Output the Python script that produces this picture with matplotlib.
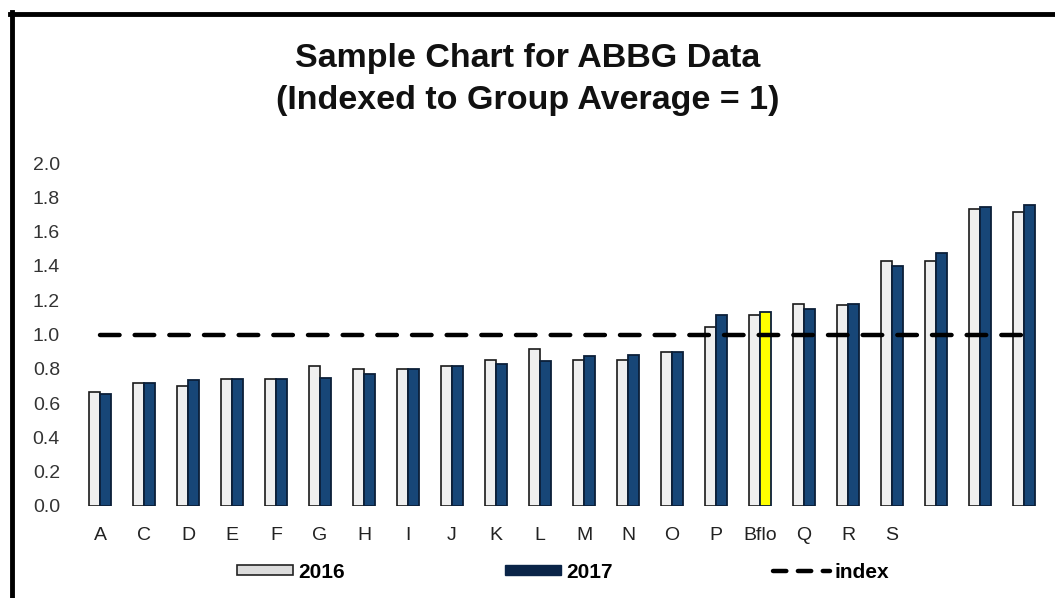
import matplotlib
matplotlib.use("Agg")
import matplotlib.pyplot as plt
import numpy as np
from matplotlib.lines import Line2D
from matplotlib.patches import Patch

plt.rcParams['font.family'] = ['Liberation Sans', 'DejaVu Sans']

categories = ["A", "C", "D", "E", "F", "G", "H", "I", "J", "K", "L", "M", "N", "O",
              "P", "Bflo", "Q", "R", "S", "", "", ""]
values_2016 = [0.665, 0.72, 0.70, 0.74, 0.74, 0.815, 0.80, 0.80, 0.815, 0.853, 0.918,
               0.853, 0.853, 0.90, 1.045, 1.115, 1.18, 1.17, 1.428, 1.428, 1.734, 1.716]
values_2017 = [0.652, 0.72, 0.733, 0.74, 0.74, 0.746, 0.767, 0.80, 0.815, 0.826, 0.845,
               0.873, 0.882, 0.90, 1.116, 1.131, 1.151, 1.18, 1.40, 1.475, 1.745, 1.753]
index_values = [1.0] * 22
highlight = "Bflo"
y_ticks = [0.0, 0.2, 0.4, 0.6, 0.8, 1.0, 1.2, 1.4, 1.6, 1.8, 2.0]

fig = plt.figure(figsize=(10.55, 5.98), dpi=100)
ax = fig.add_axes([78/1055, (598-506)/598, (1046-78)/1055, (506-163)/598])

x = np.arange(len(categories))
w = 0.25
c16 = "#efefef"
c17 = "#174677"
cols17 = ["#ffff00" if c == highlight else c17 for c in categories]
ax.bar(x - w/2, values_2016, width=w, color=c16, edgecolor="#1a1a1a", linewidth=1.2, zorder=2)
ax.bar(x + w/2, values_2017, width=w, color=cols17, edgecolor="#0b1f38", linewidth=1.3, zorder=2)
ax.plot(x, index_values, color="black", linewidth=3.2, linestyle=(0, (4.4, 3.4)),
        dash_capstyle="round", zorder=3)

ax.set_xlim(-0.5, len(categories) - 0.5)
ax.set_ylim(0, 2.0)
ax.set_yticks(y_ticks)
ax.set_yticklabels([f"{v:.1f}" for v in y_ticks], fontsize=14, color="#333333")
ax.set_xticks(x)
ax.set_xticklabels(categories, fontsize=14, color="#222222")
ax.tick_params(axis="both", length=0)
ax.tick_params(axis="y", pad=13)
ax.tick_params(axis="x", pad=15)
for s in ax.spines.values():
    s.set_visible(False)

fig.text(0.5, 1 - 58/598, "Sample Chart for ABBG Data", ha="center", va="center",
         fontsize=24.5, fontweight="bold", color="#111111")
fig.text(0.5, 1 - 100/598, "(Indexed to Group Average = 1)", ha="center", va="center",
         fontsize=24.5, fontweight="bold", color="#111111")

handles = [Patch(facecolor="#dcdcdc", edgecolor="#222222", linewidth=1.2, label="2016"),
           Patch(facecolor="#0a2448", edgecolor="#0a2448", label="2017"),
           Line2D([0], [0], color="black", linewidth=3.2, linestyle=(0, (3.0, 2.6)),
                  dash_capstyle="round", label="index")]
leg = fig.legend(handles=handles, loc="center", bbox_to_anchor=(563/1055, 1 - 572/598),
                 ncol=3, frameon=False, prop={"weight": "bold", "size": 15},
                 handlelength=2.7, handleheight=0.4, handletextpad=0.25, columnspacing=7.7)

# outer frame (left and top)
fig.add_artist(Line2D([12/1055, 12/1055], [0, 1 - 12/598], transform=fig.transFigure,
                      color="black", linewidth=3.5))
fig.add_artist(Line2D([10/1055, 1], [1 - 14/598, 1 - 14/598], transform=fig.transFigure,
                      color="black", linewidth=3.5))

fig.savefig("out.png", dpi=100)
